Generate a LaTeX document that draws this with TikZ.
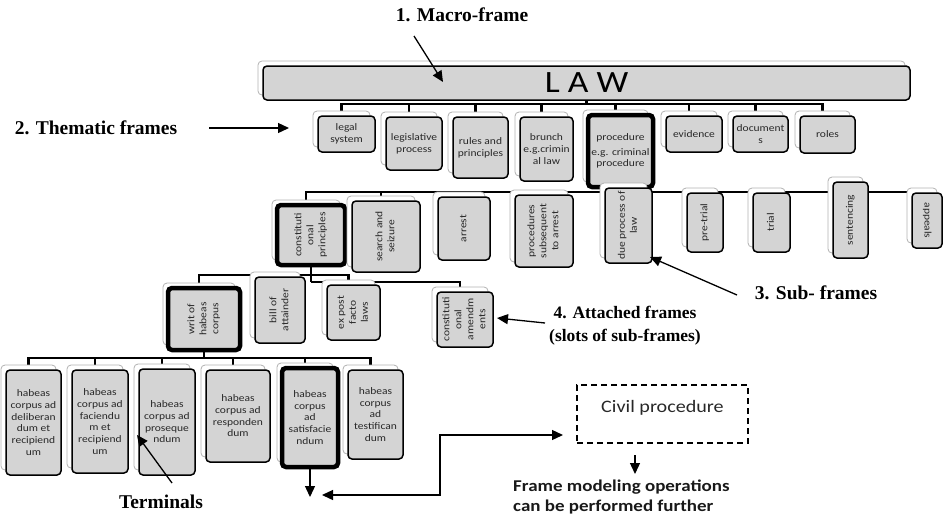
\documentclass[tikz,border=0pt]{standalone}
\usepackage{fontspec}
\setmainfont{Carlito}[FakeStretch=1.15]
\newfontfamily\labfont{Liberation Serif}
\usetikzlibrary{arrows.meta,shadows,backgrounds}

\definecolor{boxfill}{RGB}{212,212,212}
\definecolor{boxtext}{RGB}{40,40,40}

% vertical (rotated) multi-line text inside a frame
\newcommand{\vtext}[2][90]{\rotatebox{#1}{\begin{tabular}{@{}c@{}}#2\end{tabular}}}

\begin{document}
\begin{tikzpicture}[x=1pt,y=-1pt,
  frm/.style={draw=black, line width=1.5pt, fill=boxfill, rounded corners=4pt,
    inner sep=0pt, outer sep=0pt, text=boxtext, align=center,
    font=\fontsize{10}{11.7}\selectfont,
    copy shadow={shadow xshift=-5pt, shadow yshift=5pt, fill=white,
      draw=black!30, line width=0.8pt}},
  vfrm/.style={frm, font=\fontsize{10}{12}\selectfont},
  keyfrm/.style={line width=4.5pt},
  bus/.style={line width=2.6pt, black},
  arr/.style={line width=1.3pt, -{Triangle[length=11pt,width=10pt]}},
  arrtwo/.style={line width=1.3pt, {Triangle[length=11pt,width=10pt]}-{Triangle[length=11pt,width=10pt]}},
  lab/.style={font=\labfont\bfseries\fontsize{19.5}{22}\selectfont, inner sep=0pt},
]
\useasboundingbox (0,0) rectangle (950,523);

% ---- macro-frame
\node[frm, minimum width=647, minimum height=34, text=black,
      font=\fontsize{31}{34}\selectfont] (law) at (586.5,83) {L A W};

% ---- thematic frames
\node[frm, minimum width=57, minimum height=36] (legal)  at (346.5,134) {legal\\system};
\node[frm, minimum width=56, minimum height=53] (legis)  at (414,143.5) {legislative\\process};
\node[frm, minimum width=55, minimum height=61] (rules)  at (480.5,147.5) {rules and\\principles};
\node[frm, minimum width=53, minimum height=64] (brunch) at (546.5,149) {brunch\\e.g.crimin\\al law};
\node[frm, keyfrm, minimum width=65, minimum height=72] (proc) at (620.5,151) {procedure\\[3pt]e.g. criminal\\procedure};
\node[frm, minimum width=56, minimum height=36] (evid)   at (694,134) {evidence};
\node[frm, minimum width=55, minimum height=36] (docs)   at (760.5,134) {document\\s};
\node[frm, minimum width=55, minimum height=37] (roles)  at (827.5,134.5) {roles};

% ---- sub-frames
\node[vfrm, keyfrm, minimum width=68, minimum height=60] (cp) at (311,235) {\vtext{constituti\\onal\\principles}};
\node[vfrm, minimum width=68, minimum height=71] (search) at (386,236.5) {\vtext{search and\\seizure}};
\node[vfrm, minimum width=52, minimum height=63] (arrest) at (464,228.5) {\vtext{arrest}};
\node[vfrm, minimum width=58, minimum height=72] (subseq) at (544,231) {\vtext{procedures\\subsequent\\to arrest}};
\node[vfrm, minimum width=47, minimum height=75] (due)    at (628.5,225.5) {\vtext{due process of\\law}};
\node[vfrm, minimum width=36, minimum height=59] (pretr)  at (705,222.5) {\vtext{pre-trial}};
\node[vfrm, minimum width=37, minimum height=59] (trial)  at (771.5,222.5) {\vtext{trial}};
\node[vfrm, minimum width=35, minimum height=76] (sent)   at (850.5,220) {\vtext{sentencing}};
\node[vfrm, minimum width=30, minimum height=55] (appeal) at (927,220.5) {\vtext[-90]{appeals}};

% ---- attached frames
\node[vfrm, keyfrm, minimum width=72, minimum height=62] (writ) at (204,319) {\vtext{writ of\\habeas\\corpus}};
\node[vfrm, minimum width=50, minimum height=66] (bill)   at (280,310) {\vtext{bill of\\attainder}};
\node[vfrm, minimum width=53, minimum height=55] (expost) at (353.5,312.5) {\vtext{ex post\\facto\\laws}};
\node[vfrm, minimum width=56, minimum height=55] (amend)  at (465,319.5) {\vtext{constituti\\onal\\amendm\\ents}};

% ---- terminals
\node[frm, minimum width=55, minimum height=105] (hb1) at (33.5,422.5) {habeas\\corpus ad\\deliberan\\dum et\\recipiend\\um};
\node[frm, minimum width=56, minimum height=103] (hb2) at (100,421.5) {habeas\\corpus ad\\faciendu\\m et\\recipiend\\um};
\node[frm, minimum width=56, minimum height=106] (hb3) at (167,422) {habeas\\corpus ad\\proseque\\ndum};
\node[frm, minimum width=64, minimum height=92]  (hb4) at (238,416) {habeas\\corpus ad\\responden\\dum};
\node[frm, keyfrm, minimum width=56, minimum height=99] (hb5) at (310,417.5) {habeas\\corpus\\ad\\satisfacie\\ndum};
\node[frm, minimum width=55, minimum height=89]  (hb6) at (375.5,414.5) {habeas\\corpus\\ad\\testifican\\dum};

% ---- tree connectors, kept behind the frames
\begin{scope}[on background layer]
  \coordinate (j1) at ([yshift=-4pt]law.south);
  \draw[bus] (law.south) -- (j1);
  \foreach \c in {legal,legis,rules,brunch,proc,evid,docs,roles}
    \draw[bus] (j1) -| ([xshift=-5pt]\c.north);

  \coordinate (j2) at ([yshift=-5pt]proc.south);
  \draw[bus] (proc.south) -- (j2);
  \foreach \c in {cp,search,arrest,subseq,due,pretr,trial,sent,appeal}
    \draw[bus] (j2) -| ([xshift=-5pt]\c.north);

  \coordinate (j3) at ([yshift=-10pt]cp.south);
  \coordinate (j3b) at ([yshift=-17pt]cp.south);
  \draw[bus] (cp.south) -- (j3b);
  \foreach \c in {writ,bill,expost}
    \draw[bus] (j3) -| ([xshift=-5pt]\c.north);
  \draw[bus] (j3b) -| ([xshift=-5pt]amend.north);

  \coordinate (j4) at ([yshift=-8pt]writ.south);
  \draw[bus] (writ.south) -- (j4);
  \foreach \c in {hb1,hb2,hb3,hb4,hb5,hb6}
    \draw[bus] (j4) -| ([xshift=-5pt]\c.north);
\end{scope}

% ---- annotations
\node[lab] (t1) at (462,15) {1. Macro-frame};
\node[lab] (t2) at (96,128) {2. Thematic frames};
\node[lab] (t3) at (816,293) {3. Sub- frames};
\node[lab, align=center, font=\labfont\bfseries\fontsize{17.5}{23}\selectfont] (t4) at (625,326) {4. Attached frames\\(slots of sub-frames)};
\node[lab] (t5) at (161,502) {Terminals};

\coordinate (a1s) at (414,36);  \coordinate (a1e) at (443,82);
\coordinate (a2s) at (209,128); \coordinate (a2e) at (289,128);
\coordinate (a3s) at (737,295); \coordinate (a3e) at (650,257);
\coordinate (a4s) at (545,323); \coordinate (a4e) at (497,318);
\coordinate (a5s) at (172,483); \coordinate (a5e) at (137,435);
\draw[arr] (a1s) -- (a1e);
\draw[arr] (a2s) -- (a2e);
\draw[arr] (a3s) -- (a3e);
\draw[arr] (a4s) -- (a4e);
\draw[arr] (a5s) -- (a5e);

% ---- link to another macro-frame
\node[draw, line width=1.5pt, dash pattern=on 6pt off 4pt, minimum width=171,
      minimum height=58, inner sep=0pt, text=boxtext, text height=13pt, text depth=17pt,
      font=\fontsize{17.5}{20}\selectfont] (civil) at (662.5,414) {Civil procedure};

\draw[arr] (hb5.south) -- ++(0,30);
\coordinate (ret) at (322,495);
\coordinate (bend) at (440,435);
\coordinate (civin) at (563,435);
\draw[arrtwo] (ret) -| (bend) -- (civin);

\coordinate (c1) at (635,455); \coordinate (c2) at (635,474);
\draw[arr] (c1) -- (c2);
\node[anchor=west, align=left, inner sep=0pt, text=black!90,
      font=\bfseries\fontsize{16.5}{20}\selectfont] (fmo) at (513,497)
  {Frame modeling operations\\can be performed further};
\end{tikzpicture}
\end{document}
